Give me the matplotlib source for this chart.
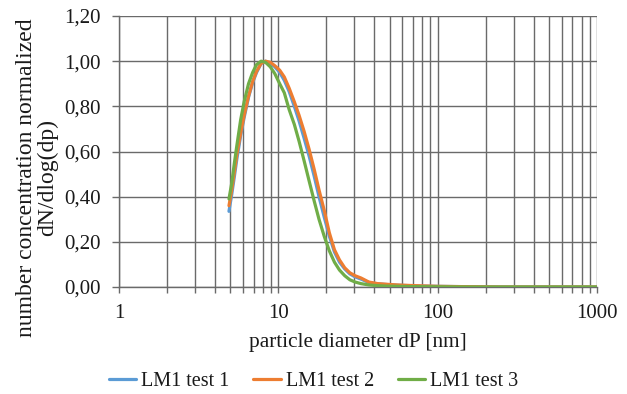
import matplotlib
matplotlib.use("Agg")
import matplotlib.pyplot as plt
from matplotlib.ticker import FixedLocator, FuncFormatter, LogLocator, NullFormatter

plt.rcParams['font.family'] = ['Liberation Serif', 'DejaVu Serif']

diameter = [4.9, 5.1, 5.3, 5.5, 5.8, 6.1, 6.5, 6.9, 7.3, 7.8, 8.3, 8.9, 9.5, 10.2,
            10.9, 11.7, 12.6, 13.5, 14.5, 15.6, 16.8, 18.0, 19.4, 20.9, 22.5, 24.2,
            26.1, 28.1, 30.3, 33, 37, 42, 48, 56, 66, 80, 100, 130, 180, 250, 350,
            500, 700, 1000]

test1 = [0.335, 0.41, 0.49, 0.57, 0.67, 0.75, 0.84, 0.905, 0.95, 0.99, 1.00, 0.99,
         0.975, 0.95, 0.915, 0.865, 0.80, 0.735, 0.66, 0.58, 0.49, 0.40, 0.31, 0.225,
         0.155, 0.11, 0.08, 0.058, 0.045, 0.035, 0.02, 0.014, 0.011, 0.008, 0.006,
         0.004, 0.003, 0.002, 0.001, 0.0, 0.0, 0.0, 0.0, 0.0]

test2 = [0.36, 0.43, 0.51, 0.59, 0.68, 0.76, 0.845, 0.91, 0.955, 0.99, 1.00, 0.995,
         0.98, 0.96, 0.93, 0.88, 0.82, 0.76, 0.69, 0.61, 0.52, 0.43, 0.34, 0.24,
         0.165, 0.12, 0.085, 0.063, 0.05, 0.04, 0.022, 0.015, 0.012, 0.009, 0.007,
         0.005, 0.003, 0.002, 0.001, 0.0, 0.0, 0.0, 0.0, 0.0]

test3 = [0.39, 0.46, 0.55, 0.63, 0.74, 0.82, 0.90, 0.95, 0.985, 1.00, 0.995, 0.975,
         0.945, 0.90, 0.86, 0.785, 0.72, 0.645, 0.56, 0.47, 0.38, 0.30, 0.225, 0.16,
         0.11, 0.075, 0.05, 0.032, 0.022, 0.015, 0.009, 0.006, 0.004, 0.003, 0.002,
         0.0015, 0.001, 0.0005, 0.0, 0.0, 0.0, 0.0, 0.0, 0.0]

series_names = ["LM1 test 1", "LM1 test 2", "LM1 test 3"]
series_colors = ["#5B9BD5", "#ED7D31", "#70AD47"]
x_ticks = [1, 10, 100, 1000]
y_ticks = [0.0, 0.2, 0.4, 0.6, 0.8, 1.0, 1.2]

W, H = 627, 394
fig = plt.figure(figsize=(W / 100, H / 100), dpi=100)
ax = fig.add_axes([119 / W, 1 - 287 / H, (597 - 119) / W, (287 - 16) / H])

for vals, name, col in zip([test1, test2, test3], series_names, series_colors):
    ax.plot(diameter, vals, color=col, lw=2.3, label=name, solid_capstyle='round', zorder=3)

ax.set_xscale('log')
ax.set_xlim(1, 1000)
ax.set_ylim(0, 1.2)
ax.xaxis.set_major_locator(FixedLocator(x_ticks))
ax.xaxis.set_major_formatter(FuncFormatter(lambda v, p: f"{v:g}"))
ax.xaxis.set_minor_locator(LogLocator(base=10, subs=range(2, 10)))
ax.xaxis.set_minor_formatter(NullFormatter())
ax.yaxis.set_major_locator(FixedLocator(y_ticks))
ax.yaxis.set_major_formatter(FuncFormatter(lambda v, p: f"{v:.2f}".replace('.', ',')))

gc = '#6a6a6a'
ax.grid(True, which='major', axis='both', color=gc, lw=1.0)
ax.grid(True, which='minor', axis='x', color=gc, lw=1.0)
for s in ['top', 'right']:
    ax.spines[s].set_visible(False)
for s in ['left', 'bottom']:
    ax.spines[s].set_color(gc)
    ax.spines[s].set_linewidth(1.0)

tc = '#1a1a1a'
ax.tick_params(axis='both', which='both', direction='out', color=gc, width=1.0,
               labelsize=15, labelcolor=tc)
ax.tick_params(axis='y', which='major', length=5, pad=8)
ax.tick_params(axis='x', which='both', length=4.5, pad=8)

ax.set_xlabel("particle diameter dP [nm]", fontsize=15.3, color=tc, labelpad=7)
fig.text(37 / W, 1 - 178 / H, "number concentration normalized\ndN/dlog(dp)",
         rotation=90, ha='center', va='center', multialignment='center',
         fontsize=17, color=tc, linespacing=0.98)

fig.legend(loc='center', bbox_to_anchor=(0.5, 1 - 381 / H), ncol=3, frameon=False,
           fontsize=14.5, handlelength=1.35, handletextpad=0.25, columnspacing=1.2,
           labelcolor=tc)

fig.savefig("out.png", dpi=100)
